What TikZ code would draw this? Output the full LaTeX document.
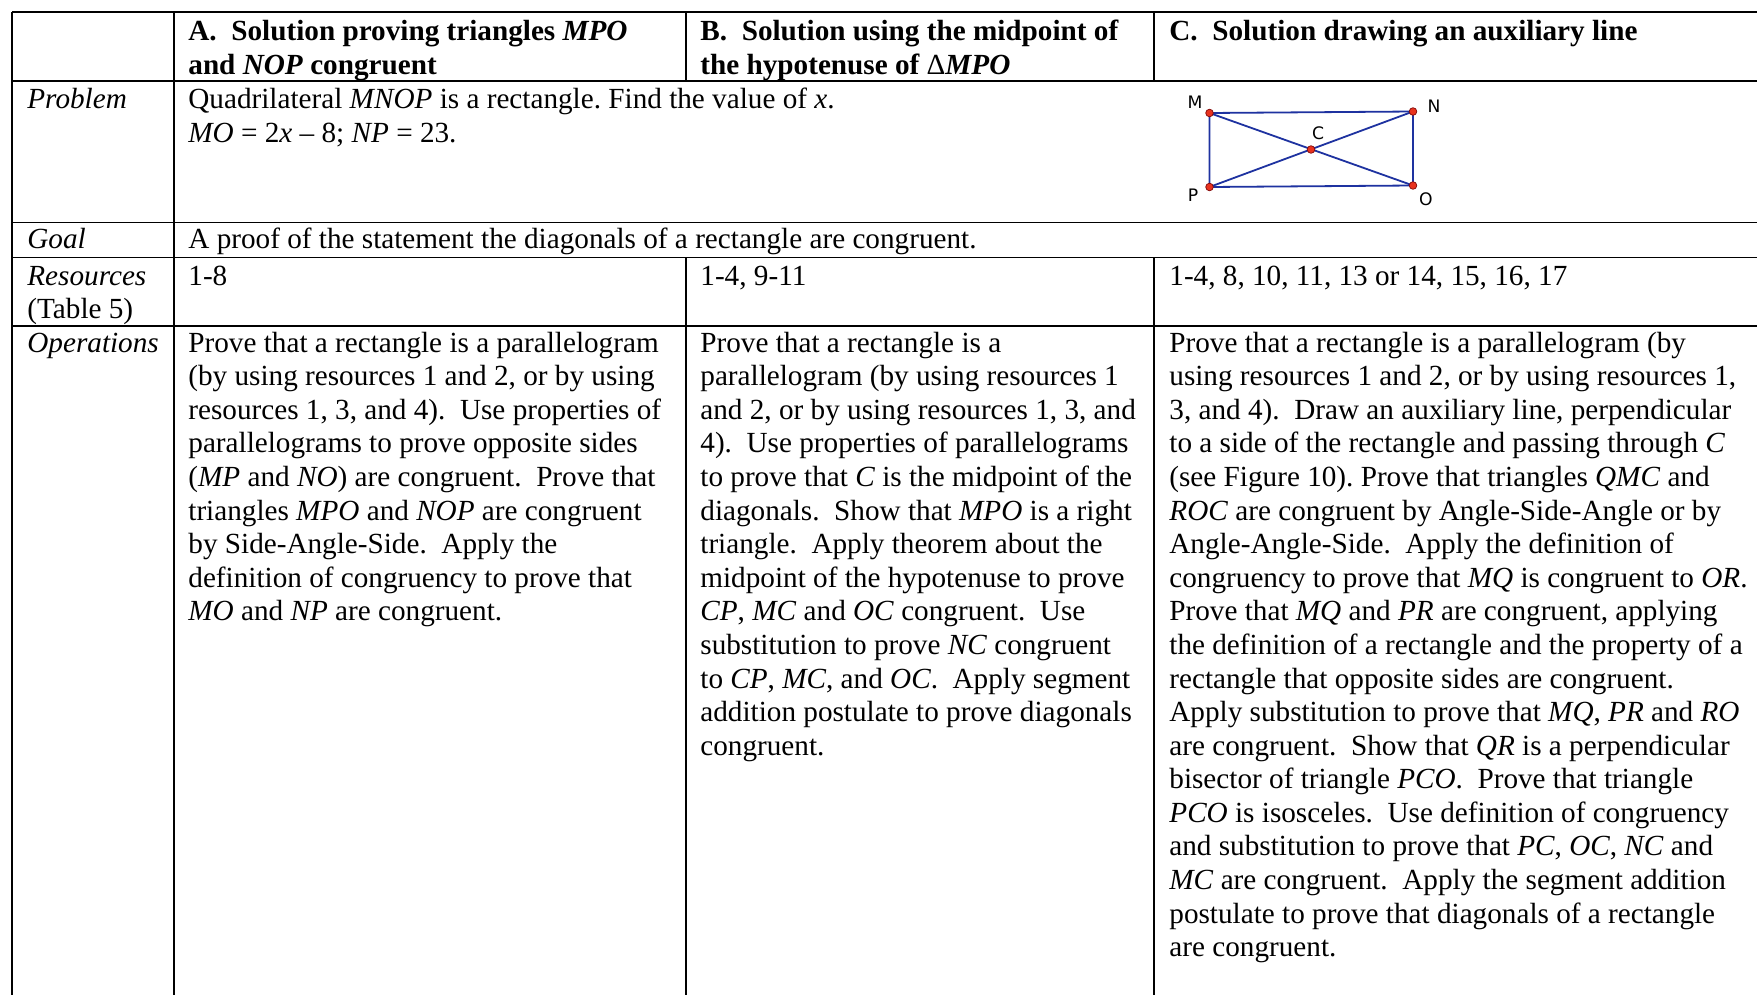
\documentclass[tikz,border=0pt]{standalone}
\usepackage{fontspec}
\setmainfont{Liberation Serif}
\newfontfamily\figfont{DejaVu Sans}
\frenchspacing
\definecolor{geoblue}{RGB}{30,50,160}
\definecolor{ptred}{RGB}{232,50,30}
\definecolor{ptedge}{RGB}{130,10,10}
\newcommand{\mlines}[1]{\begin{tabular}[t]{@{}l@{}}#1\end{tabular}}
\begin{document}
\begin{tikzpicture}[x=0.5pt,y=-0.5pt,
  rule/.style={line width=0.9pt,black},
  txt/.style={anchor=base west,inner sep=0pt,font=\fontsize{14.6}{16.8}\selectfont},
  hdr/.style={txt,font=\fontsize{14.6}{16.8}\selectfont\bfseries},
  lbl/.style={txt,font=\fontsize{14.6}{16.8}\selectfont\itshape},
  seg/.style={geoblue,line width=0.9pt},
  pt/.style={circle,fill=ptred,draw=ptedge,line width=0.35pt,inner sep=0pt,minimum size=3.8pt},
  ptl/.style={inner sep=0pt,font=\figfont\fontsize{8.6}{9}\selectfont}]
\fill[white] (0,0) rectangle (1757,995);
\useasboundingbox (0,0) rectangle (1757,995);
% table rules
\draw[rule] (12,12) -- (1757,12);
\draw[rule] (12,81) -- (1757,81);
\draw[rule] (12,222.5) -- (1757,222.5);
\draw[rule] (12,257.5) -- (1757,257.5);
\draw[rule] (12,326) -- (1757,326);
\draw[rule] (12,12) -- (12,995);
\draw[rule] (174,12) -- (174,995);
\draw[rule] (686,12) -- (686,81);
\draw[rule] (686,257.5) -- (686,995);
\draw[rule] (1154,12) -- (1154,81);
\draw[rule] (1154,257.5) -- (1154,995);
% header
\node[hdr] (hA) at (188,41) {\mlines{A.\ \ Solution proving triangles \textit{MPO}\\and \textit{NOP} congruent}};
\node[hdr] (hB) at (700,41) {\mlines{B.\ \ Solution using the midpoint of\\the hypotenuse of {\mdseries Δ}\textit{MPO}}};
\node[hdr] (hC) at (1169,41) {\mlines{C.\ \ Solution drawing an auxiliary line}};
% row labels
\node[lbl] (lProb) at (27,109) {Problem};
\node[lbl] (lGoal) at (27,249) {Goal};
\node[txt] (lRes) at (27,285) {\mlines{\textit{Resources}\\(Table 5)}};
\node[lbl] (lOps) at (27,352) {Operations};
% problem
\node[txt] (prob) at (188,109) {\mlines{Quadrilateral \textit{MNOP} is a rectangle. Find the value of \textit{x}.\\\textit{MO} = 2\textit{x} – 8; \textit{NP} = 23.}};
% goal
\node[txt] (goal) at (188,249) {A proof of the statement the diagonals of a rectangle are congruent.};
% resources
\node[txt] (rA) at (188,285) {1-8};
\node[txt] (rB) at (700,285) {1-4, 9-11};
\node[txt] (rC) at (1169,285) {1-4, 8, 10, 11, 13 or 14, 15, 16, 17};
% operations
\node[txt] (oA) at (188,352) {\mlines{%
Prove that a rectangle is a parallelogram\\
(by using resources 1 and 2, or by using\\
resources 1, 3, and 4).~ Use properties of\\
parallelograms to prove opposite sides\\
(\textit{MP} and \textit{NO}) are congruent.~ Prove that\\
triangles \textit{MPO} and \textit{NOP} are congruent\\
by Side-Angle-Side.~ Apply the\\
definition of congruency to prove that\\
\textit{MO} and \textit{NP} are congruent.}};
\node[txt] (oB) at (700,352) {\mlines{%
Prove that a rectangle is a\\
parallelogram (by using resources 1\\
and 2, or by using resources 1, 3, and\\
4).~ Use properties of parallelograms\\
to prove that \textit{C} is the midpoint of the\\
diagonals.~ Show that \textit{MPO} is a right\\
triangle.~ Apply theorem about the\\
midpoint of the hypotenuse to prove\\
\textit{CP}, \textit{MC} and \textit{OC} congruent.~ Use\\
substitution to prove \textit{NC} congruent\\
to \textit{CP}, \textit{MC}, and \textit{OC}.~ Apply segment\\
addition postulate to prove diagonals\\
congruent.}};
\node[txt] (oC) at (1169,352) {\mlines{%
Prove that a rectangle is a parallelogram (by\\
using resources 1 and 2, or by using resources 1,\\
3, and 4).~ Draw an auxiliary line, perpendicular\\
to a side of the rectangle and passing through \textit{C}\\
(see Figure 10). Prove that triangles \textit{QMC} and\\
\textit{ROC} are congruent by Angle-Side-Angle or by\\
Angle-Angle-Side.~ Apply the definition of\\
congruency to prove that \textit{MQ} is congruent to \textit{OR}.\\
Prove that \textit{MQ} and \textit{PR} are congruent, applying\\
the definition of a rectangle and the property of a\\
rectangle that opposite sides are congruent.\\
Apply substitution to prove that \textit{MQ}, \textit{PR} and \textit{RO}\\
are congruent.~ Show that \textit{QR} is a perpendicular\\
bisector of triangle \textit{PCO}.~ Prove that triangle\\
\textit{PCO} is isosceles.~ Use definition of congruency\\
and substitution to prove that \textit{PC}, \textit{OC}, \textit{NC} and\\
\textit{MC} are congruent.~ Apply the segment addition\\
postulate to prove that diagonals of a rectangle\\
are congruent.}};
% figure
\coordinate (M) at (1209.5,113);
\coordinate (N) at (1413,111.5);
\coordinate (P) at (1209.5,187);
\coordinate (O) at (1413,185.5);
\coordinate (C) at (1311,149.5);
\draw[seg] (M) -- (N) -- (O) -- (P) -- cycle;
\draw[seg] (M) -- (O);
\draw[seg] (P) -- (N);
\foreach \p in {M,N,P,O,C} \node[pt] (d\p) at (\p) {};
\node[ptl] (tM) at (1195,102) {M};
\node[ptl] (tN) at (1434,106) {N};
\node[ptl] (tC) at (1318,133) {C};
\node[ptl] (tP) at (1193,195) {P};
\node[ptl] (tO) at (1426,199) {O};
\end{tikzpicture}
\end{document}
